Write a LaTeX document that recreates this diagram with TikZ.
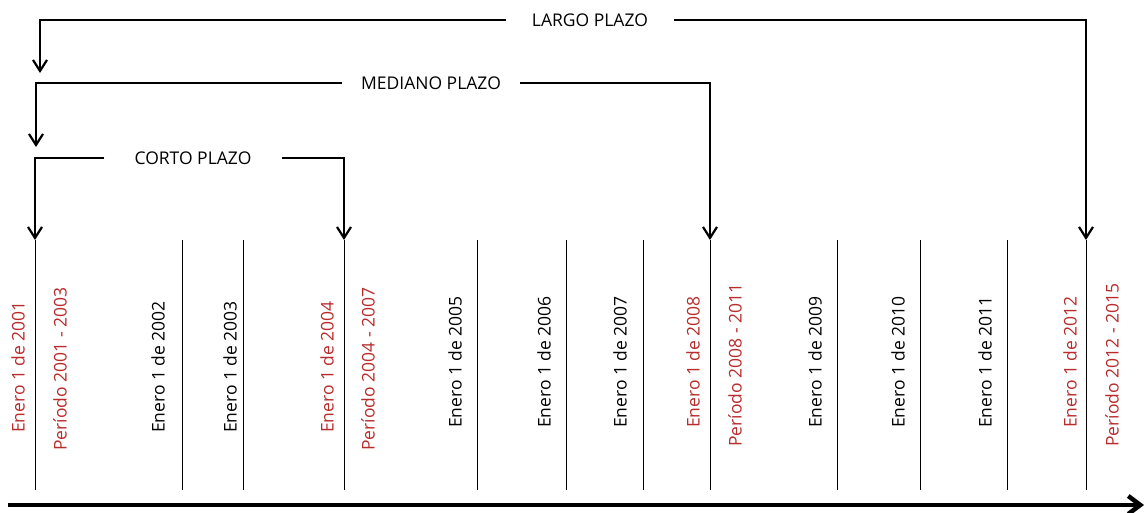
\documentclass[tikz,border=0pt]{standalone}
\usepackage{fontspec}
\setmainfont{Open Sans}
\usepackage{xcolor}
\usetikzlibrary{arrows.meta,positioning,calc}
\definecolor{fecha}{RGB}{184,44,44}

\begin{document}
\begin{tikzpicture}[x=1pt,y=-1pt,
 lbl/.style={font=\fontsize{17.5}{20}\selectfont,inner sep=0pt},
 year/.style={lbl,rotate=90},
 hito/.style={year,text=fecha},
 plazo/.style={lbl,inner ysep=2pt},
 arr/.style={-{Straight Barb[length=11pt,width=14pt]},line width=2.2pt},
 tick/.style={line width=0.8pt},
 axis/.style={-{Straight Barb[length=12pt,width=18pt]},line width=4.5pt}]
 \useasboundingbox (0,0) rectangle (1146,512);
 % ticks of the timeline
 \foreach \x [count=\i] in {35,182,243,344,477,566,643,710,837,920,1007,1086} {
  \coordinate (t\i) at (\x,240);
  \coordinate (b\i) at (\x,490);
  \draw[tick] (t\i) -- (b\i);
 }
 % dates
 \node[hito] (e01) at (18,367) {Enero 1 de 2001};
 \node[hito] (p01) at (60,369) {Período 2001 - 2003};
 \node[year] (e02) at (158,367) {Enero 1 de 2002};
 \node[year] (e03) at (230,367) {Enero 1 de 2003};
 \node[hito] (e04) at (327,367) {Enero 1 de 2004};
 \node[hito] (p04) at (368,369) {Período 2004 - 2007};
 \node[year] (e05) at (455,362) {Enero 1 de 2005};
 \node[year] (e06) at (544,362) {Enero 1 de 2006};
 \node[year] (e07) at (620,362) {Enero 1 de 2007};
 \node[hito] (e08) at (693,362) {Enero 1 de 2008};
 \node[hito] (p08) at (735,365) {Período 2008 - 2011};
 \node[year] (e09) at (815,362) {Enero 1 de 2009};
 \node[year] (e10) at (898,362) {Enero 1 de 2010};
 \node[year] (e11) at (985,362) {Enero 1 de 2011};
 \node[hito] (e12) at (1070,362) {Enero 1 de 2012};
 \node[hito] (p12) at (1112,365) {Período 2012 - 2015};
 % terms
 \node[plazo,inner xsep=30pt] (corto) at (193,158) {CORTO PLAZO};
 \node[plazo,inner xsep=19pt] (mediano) at (431,83) {MEDIANO PLAZO};
 \node[plazo,inner xsep=26pt] (largo) at (590,20) {LARGO PLAZO};
 \coordinate (m1) at (36,147);
 \coordinate (l1) at (40,73);
 \draw[arr] (corto.west) -| (t1); \draw[arr] (corto.east) -| (t4);
 \draw[arr] (mediano.west) -| (m1); \draw[arr] (mediano.east) -| (t8);
 \draw[arr] (largo.west) -| (l1); \draw[arr] (largo.east) -| (t12);
 % time axis
 \coordinate (ax0) at (8,505);
 \coordinate (ax1) at (1144,505);
 \draw[axis] (ax0) -- (ax1);
\end{tikzpicture}
\end{document}
